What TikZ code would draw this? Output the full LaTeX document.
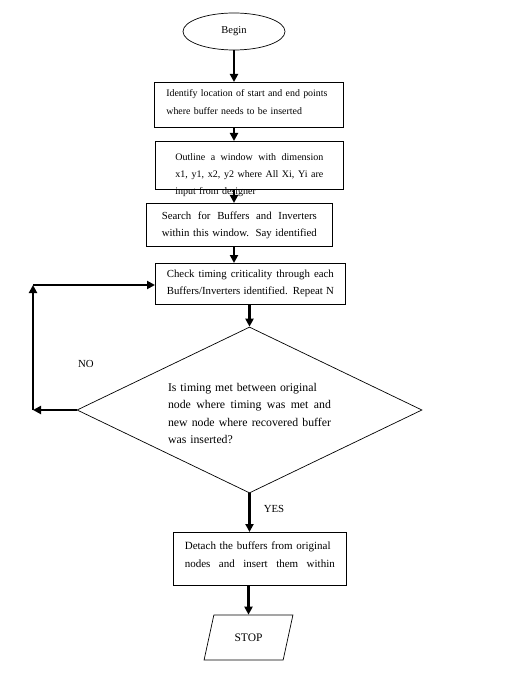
\documentclass[tikz,border=0pt]{standalone}
\usepackage{fontspec}
\setmainfont{Liberation Serif}
\usetikzlibrary{shapes.geometric,arrows.meta}
\newcommand{\jl}[2]{{\spaceskip=0pt\xspaceskip=0pt\makebox[#1][s]{#2}}}

\begin{document}
\begin{tikzpicture}[x=1pt,y=-1pt,>={Triangle[length=8pt,width=8pt]},line width=0.7pt]
	\tikzstyle{every node}=[font=\fontsize{10.8}{17.5}\selectfont]
	\tikzstyle{block}=[rectangle, draw, anchor=north west, inner sep=0pt, align=left]
	\tikzstyle{every edge}=[draw, ->, line width=2.2pt]
	\useasboundingbox (0,0) rectangle (528,676);
	
	\node[ellipse, draw, minimum width=102pt, minimum height=37pt, inner sep=0pt, font=\fontsize{10.5}{12}\selectfont] (1) at (234,31.5) {Begin};
	\node[block, minimum width=189pt, text width=165pt, text height=14pt, text depth=31pt, font=\fontsize{9.9}{18}\selectfont] (2) at (154,82)
		{\mbox{Identify location of start and end points}\\ where buffer needs to be inserted};
	\node[block, minimum width=188pt, text width=148pt, text height=19pt, text depth=29pt, font=\fontsize{10}{17}\selectfont] (3) at (155,141)
		{\jl{148pt}{Outline a window with dimension}\\ \jl{148pt}{x1, y1, x2, y2 where All Xi, Yi are}\\ input from designer};
	\node[block, minimum width=186pt, text width=155pt, text height=16pt, text depth=27pt] (4) at (146,203)
		{\jl{155pt}{Search for Buffers and Inverters}\\ \jl{155pt}{within this window. Say identified}};
	\node[block, minimum width=190pt, text width=167pt, text height=14pt, text depth=27pt] (5) at (155,263)
		{\jl{167pt}{Check timing criticality through each}\\ \jl{167pt}{Buffers/Inverters identified. Repeat N}};
	\node[diamond, draw, minimum width=345pt, minimum height=166pt, shape aspect=2, inner sep=0pt, text width=163pt, text height=0pt, text depth=38pt, align=left, font=\fontsize{11.8}{17.5}\selectfont] (6) at (249.5,410)
		{Is timing met between original\\ \jl{163pt}{node where timing was met and}\\ \jl{163pt}{new node where recovered buffer}\\ was inserted?};
	\node[block, minimum width=173pt, text width=150pt, text height=17pt, text depth=36pt, font=\fontsize{11}{18}\selectfont] (7) at (173,532)
		{\mbox{Detach the buffers from original}\\ \jl{150pt}{nodes and insert them within}};
	\node[trapezium, draw, trapezium left angle=63, trapezium right angle=117, trapezium stretches=true, minimum width=89pt, minimum height=45pt, inner sep=0pt, font=\fontsize{11.5}{12}\selectfont] (8) at (248.5,637.5) {STOP};
	
	\node (9) at (86,364) {NO};
	\node (10) at (274,509) {YES};
	\coordinate (a) at (33,410);
	\coordinate (b) at (33,285);
	
	\path (1.south) edge (1.south |- 2.north);
	\path (1.south |- 2.south) edge (1.south |- 3.north);
	\path (234,0 |- 3.south) edge (234,0 |- 4.north);
	\path (234,0 |- 4.south) edge (234,0 |- 5.north);
	\path (5.south -| 6.north) edge (6.north);
	\path (6.south) edge (6.south |- 7.north);
	\path (7.south -| 8.north) edge (8.north);
	\path (6.west) edge (a);
	\path (a) edge (b);
	\path (b) edge (b -| 5.west);
	
\end{tikzpicture}
\end{document}
